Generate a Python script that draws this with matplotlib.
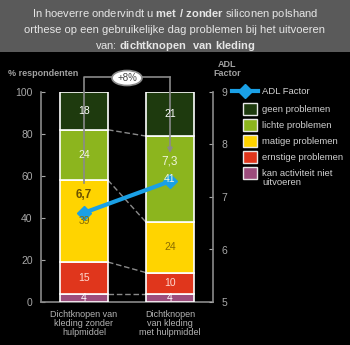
import matplotlib
matplotlib.use("Agg")
import matplotlib.pyplot as plt
from matplotlib.patches import Rectangle, Ellipse
from matplotlib.lines import Line2D
import numpy as np

plt.rcParams['font.family'] = ['Liberation Sans', 'DejaVu Sans']
plt.rcParams['mathtext.fontset'] = 'custom'
plt.rcParams['mathtext.rm'] = 'Liberation Sans'
plt.rcParams['mathtext.bf'] = 'Liberation Sans:bold'

# ---- data ----
categories = ["Dichtknopen van\nkleding zonder\nhulpmiddel", "Dichtknopen\nvan kleding\nmet hulpmiddel"]
series_names = ["kan activiteit niet\nuitvoeren", "ernstige problemen", "matige problemen",
                "lichte problemen", "geen problemen"]
zonder = [4, 15, 39, 24, 18]
met = [4, 10, 24, 41, 21]
adl = [6.7, 7.3]
adl_labels = ["6,7", "7,3"]
diff_label = "+8%"
left_ticks = [0, 20, 40, 60, 80, 100]
right_ticks = [5, 6, 7, 8, 9]

colors = ["#9c4d7c", "#e0361c", "#ffd400", "#8cb51e", "#1e3a0e"]
txt_colors = ["#ffffff", "#ffd9d0", "#8a6d00", "#f4f8e0", "#ffffff"]
blue = "#1aa0e6"
gray = "#8a8a8a"

W, H = 350, 345
fig = plt.figure(figsize=(3.5, 3.45), dpi=100, facecolor="black")

def fx(px): return px / W
def fy(py): return 1 - py / H

# title banner
fig.add_artist(Rectangle((0, fy(52)), 1, 52 / H, transform=fig.transFigure,
                         facecolor="#5a5a5a", edgecolor="none", zorder=0))
title_lines = [r"In hoeverre ondervindt u $\bf{met\ /\ zonder}$ siliconen polshand",
               "orthese op een gebruikelijke dag problemen bij het uitvoeren",
               r"van: $\bf{dichtknopen\ \ van\ kleding}$"]
for i, t in enumerate(title_lines):
    fig.text(0.5, fy(14 + i * 16), t, ha="center", va="center", color="#e6e6e6", fontsize=8)

ax = fig.add_axes([fx(41), fy(302), fx(213) - fx(41), (302 - 92) / H])
ax.set_facecolor("black")
x = np.arange(len(categories))
width = 48 / 86
data = np.array([zonder, met]).T  # series x category

ax2 = ax.twinx()
ax2.set_ylim(5, 9)

bottoms = np.zeros(len(categories))
for i, name in enumerate(series_names):
    ax.bar(x, data[i], width, bottom=bottoms, color=colors[i], edgecolor="white",
           linewidth=1.2, zorder=3)
    for j in range(len(categories)):
        ax2.text(x[j], bottoms[j] + data[i][j] / 2, str(data[i][j]), ha="center", va="center",
                 color=txt_colors[i], fontsize=7.5, zorder=8, transform=ax.transData)
    bottoms += data[i]

# connectors between bars
cum = np.cumsum(data, axis=0)
for i in range(len(series_names) - 1):
    ax.plot([x[0] + width / 2, x[1] - width / 2], [cum[i][0], cum[i][1]], color=gray,
            linestyle=(0, (4, 2)), linewidth=1, zorder=2)

ax.set_xlim(-0.5, 1.5)
ax.set_ylim(0, 100)
ax.set_yticks(left_ticks)
ax.set_xticks(x)
ax.set_xticklabels(categories, color="#b4b4b4", fontsize=6.5, linespacing=1.0)
ax.tick_params(axis="x", length=0, pad=6)
ax.tick_params(axis="y", colors="#a8a8a8", labelsize=7.5, length=3, direction="in", pad=6)
for s in ["top", "right"]:
    ax.spines[s].set_visible(False)
for s in ["left", "bottom"]:
    ax.spines[s].set_color(gray)
    ax.spines[s].set_linewidth(1.2)

ax2.set_yticks(right_ticks)
ax2.tick_params(axis="y", colors="#a8a8a8", labelsize=7.5, length=3, direction="in", pad=6)
for s in ["top", "left", "bottom"]:
    ax2.spines[s].set_visible(False)
ax2.spines["right"].set_color(gray)
ax2.spines["right"].set_linewidth(1.2)
ax2.plot(x, adl, color=blue, linewidth=3, marker="D", markersize=7, zorder=5)
ax2.annotate(adl_labels[0], (x[0], adl[0]), xytext=(0, 13), textcoords="offset points",
             ha="center", va="center", color="#6b5200", fontsize=8.5, fontweight="bold", zorder=9)
ax2.annotate(adl_labels[1], (x[1], adl[1]), xytext=(0, 14), textcoords="offset points",
             ha="center", va="center", color="#f0f5dc", fontsize=8.5, zorder=9)

# bracket with +8%
ytop = (302 - 77) / 2.1
ax2.plot([x[0], x[0], x[1]], [(302 - 183) / 2.1, ytop, ytop], color=gray, lw=1.2,
         clip_on=False, zorder=7, transform=ax.transData)
ax2.annotate("", xy=(x[1], (302 - 153) / 2.1), xytext=(x[1], ytop), xycoords=ax.transData,
             textcoords=ax.transData,
             arrowprops=dict(arrowstyle="-|>", color=gray, lw=1.2, mutation_scale=7,
                             shrinkA=0, shrinkB=0), annotation_clip=False, zorder=7)
ell = Ellipse((fx(127), fy(78)), 30 / W, 15 / H, transform=fig.transFigure,
              facecolor="white", edgecolor=gray, lw=1.2, zorder=10)
fig.add_artist(ell)
fig.text(fx(127), fy(78), diff_label, ha="center", va="center", color="#444444",
         fontsize=7, zorder=11)

# axis titles
fig.text(fx(8), fy(74), "% respondenten", ha="left", va="center", color="#a0a0a0",
         fontsize=6.5, fontweight="bold")
fig.text(fx(227), fy(69), "ADL\nFactor", ha="center", va="center", color="#a0a0a0",
         fontsize=6.5, fontweight="bold", linespacing=0.9)

# legend (manual)
fig.add_artist(Line2D([fx(232), fx(258)], [fy(91), fy(91)], color=blue, lw=3,
                      transform=fig.transFigure))
fig.add_artist(Line2D([fx(245)], [fy(91)], color=blue, marker="D", markersize=7,
                      linestyle="none", transform=fig.transFigure))
fig.text(fx(262), fy(91), "ADL Factor", ha="left", va="center", color="#d0d0d0", fontsize=6.8)
leg_y = [109, 125, 141, 157, 173]
order = [4, 3, 2, 1, 0]
for k, i in enumerate(order):
    yy = leg_y[k]
    fig.add_artist(Rectangle((fx(243), fy(yy + 6)), 14 / W, 12 / H, transform=fig.transFigure,
                             facecolor=colors[i], edgecolor="#e8e8e8", lw=1))
    ty = yy + 5 if "\n" in series_names[i] else yy
    fig.text(fx(262), fy(ty), series_names[i], ha="left", va="center",
             color="#d0d0d0", fontsize=6.8, linespacing=1.0)

fig.savefig("out.png", dpi=100, facecolor="black")
